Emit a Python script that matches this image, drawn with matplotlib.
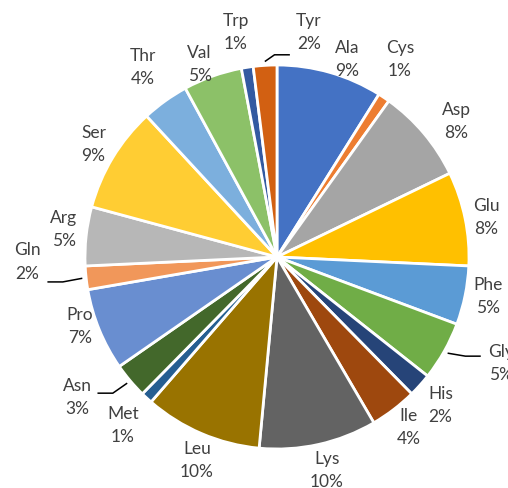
import numpy as np
import matplotlib
matplotlib.use("Agg")
import matplotlib.pyplot as plt

# 数据：氨基酸组成（顺时针，从 12 点方向开始）
氨基酸 = ["Ala", "Cys", "Asp", "Glu", "Phe", "Gly", "His", "Ile", "Lys", "Leu",
       "Met", "Asn", "Pro", "Gln", "Arg", "Ser", "Thr", "Val", "Trp", "Tyr"]
百分比 = [9, 1, 8, 8, 5, 5, 2, 4, 10, 10, 1, 3, 7, 2, 5, 9, 4, 5, 1, 2]

颜色 = ["#4472C4", "#ED7D31", "#A5A5A5", "#FFC000", "#5B9BD5", "#70AD47",
      "#264478", "#9E480E", "#636363", "#997300", "#255E91", "#43682B",
      "#698ED0", "#F1975A", "#B7B7B7", "#FFCD33", "#7CAFDD", "#8CC168",
      "#335AA1", "#D26012"]

# 标签布局：半径倍数与角度偏移（度）
标签半径 = [1.09, 1.21, 1.17, 1.11, 1.12, 1.29, 1.15, 1.12, 1.14, 1.14,
        1.19, 1.27, 1.09, 1.30, 1.12, 1.12, 1.21, 1.08, 1.19, 1.18]
标签偏移 = [3.6, -1.9, 3.1, 0.8, -0.9, -4.0, 0.3, -0.2, -0.7, -1.7,
        -0.3, 5.0, 2.8, 5.1, 1.0, 0.3, 0.3, -2.3, -1.5, 11.7]
# 引导线：标签序号 -> 连接点相对标签中心的偏移
引导线 = {19: (-0.10, -0.115, -1), 13: (0.104, -0.104, 1),
       11: (0.104, 0.021, 1), 5: (-0.104, 0.037, -1)}

文字颜色 = "#404040"


def polar(角度, r):
    """角度从 12 点方向顺时针计。"""
    rad = np.deg2rad(角度)
    return r * np.sin(rad), r * np.cos(rad)


fig = plt.figure(figsize=(5.08, 4.88), dpi=100)
ax = fig.add_axes([0, 0, 1, 1])
wedges, _ = ax.pie(百分比, colors=颜色, startangle=90, counterclock=False,
                   wedgeprops=dict(edgecolor="white", linewidth=2.0))

total = sum(百分比)
累计 = np.cumsum([0] + 百分比[:-1])
for i, name in enumerate(氨基酸):
    mid = (累计[i] + 百分比[i] / 2) / total * 360
    x, y = polar(mid + 标签偏移[i], 标签半径[i])
    ax.text(x, y, f"{name}\n{百分比[i]}%", ha="center", va="center",
            fontsize=12.5, color=文字颜色, family="Lato", linespacing=1.55)
    if i in 引导线:
        dx, dy, side = 引导线[i]
        sx, sy = polar(mid, 1.02)
        ex, ey = x + dx, y + dy
        ax.plot([sx, ex + side * 0.08, ex], [sy, ey, ey], color="black",
                linewidth=1.1, solid_capstyle="butt")

R_px = 192
ax.set_xlim(-277 / R_px, (508 - 277) / R_px)
ax.set_ylim(-(488 - 257) / R_px, 257 / R_px)
ax.set_aspect("equal", adjustable="box")
ax.axis("off")
fig.savefig("out.png", dpi=100)
